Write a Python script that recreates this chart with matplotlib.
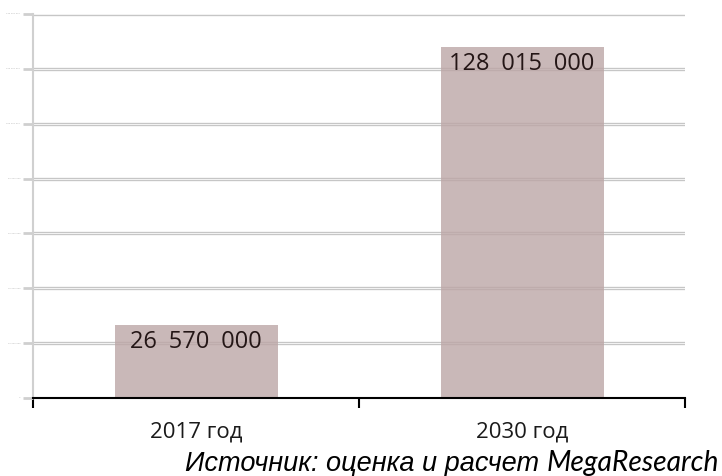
import matplotlib.pyplot as plt

# values
years = ["2017 год", "2030 год"]
values = [26570000, 128015000]
yticks = list(range(0, 140000001, 20000000))
source_main = "Источник: оценка и расчет"
source_org = "MegaResearch"

W, H = 722, 476
fig = plt.figure(figsize=(W / 100, H / 100), dpi=100)
ax = fig.add_axes([33 / W, 1 - 398 / H, 652 / W, 384 / H])

xs = list(range(len(years)))

# double-stroke gridlines like the original (grey edges, light centre)
ax.set_yticks(yticks)
ax.set_ylim(0, yticks[-1])
for y in yticks[1:]:
    ax.axhline(y, color="#c6c6c6", lw=2.4, zorder=0)
    ax.axhline(y, color="#f4f4f4", lw=0.7, zorder=0.5)

ax.bar(xs, values, width=0.5, color="#bca6a6", alpha=0.8, zorder=1)

for x, v in zip(xs, values):
    txt = f"{v:,}".replace(",", "\u2002")
    ax.annotate(txt, xy=(x, v), xytext=(0, -12.5), textcoords="offset points",
                ha="center", va="center", fontsize=17, family="Open Sans",
                color="#241616", zorder=3)

ax.set_xlim(-0.5, len(years) - 0.5)
ax.set_xticks(xs)
ax.set_xticklabels(years, fontsize=16, family="Open Sans", color="#1a1a1a")
ax.set_xticks([x - 0.5 for x in xs] + [xs[-1] + 0.5], minor=True)
ax.tick_params(axis="x", which="major", length=0, pad=17)
ax.tick_params(axis="x", which="minor", length=7.2, width=1.5, color="black")

# tiny, nearly unreadable y labels as in the source image
ax.set_yticklabels([f"{t:,}".replace(",", " ") for t in yticks],
                   fontsize=1.6, color="#b0b0b0")
ax.tick_params(axis="y", length=7.2, width=2, color="#cfcfcf", pad=2)

for s in ["top", "right"]:
    ax.spines[s].set_visible(False)
ax.spines["left"].set_color("#d0d0d0")
ax.spines["left"].set_linewidth(1.5)
ax.spines["bottom"].set_color("black")
ax.spines["bottom"].set_linewidth(1.5)
ax.spines["bottom"].set_zorder(4)

# source line, two fonts like the original
fig.text(719 / W, 1 - 471 / H, source_org, ha="right", va="baseline",
         fontsize=20.3, family="Lato", style="italic", color="black")
fig.text(539 / W, 1 - 471 / H, source_main, ha="right", va="baseline",
         fontsize=19.5, family="Liberation Sans", style="italic", color="black")

fig.savefig("out.png", dpi=100)
